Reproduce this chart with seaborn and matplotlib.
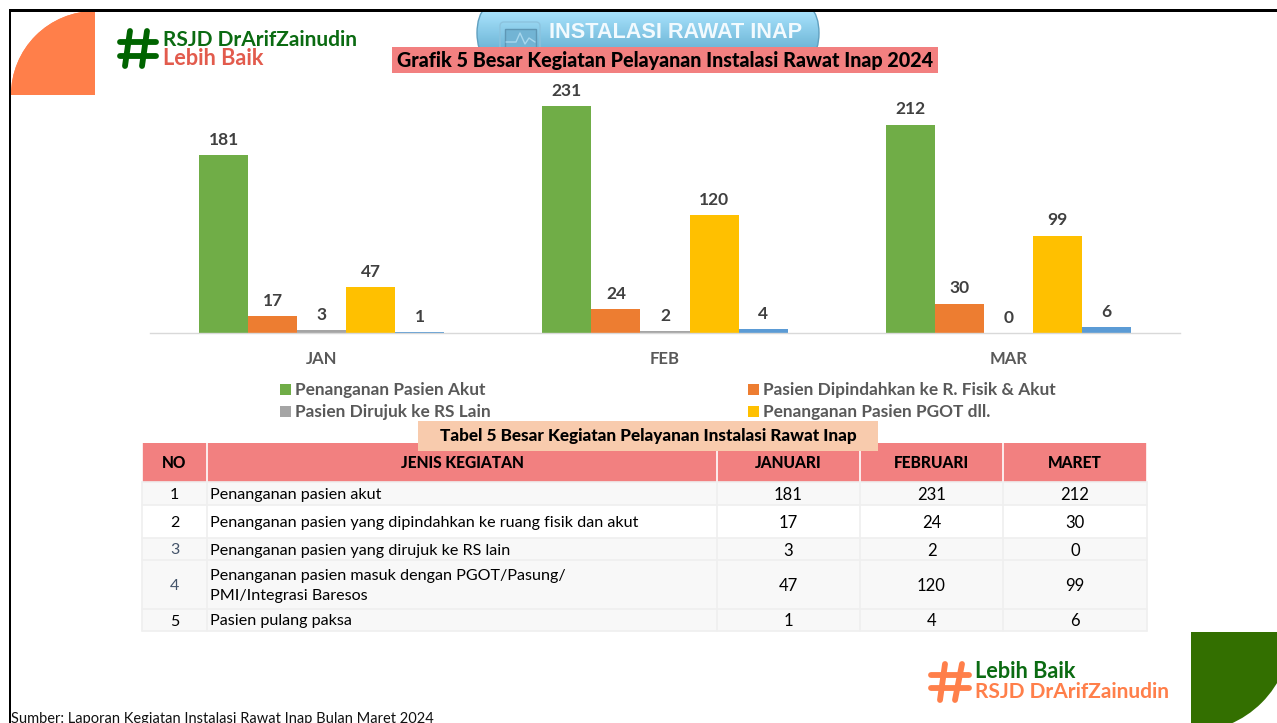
import pandas as pd
import seaborn as sns
import matplotlib
matplotlib.use('Agg')
import matplotlib.pyplot as plt
from matplotlib.patches import Rectangle, Circle, FancyBboxPatch
import numpy as np

# data
bulan = ['JAN', 'FEB', 'MAR']
kegiatan = ['Penanganan Pasien Akut', 'Pasien Dipindahkan ke R. Fisik & Akut', 'Pasien Dirujuk ke RS Lain',
            'Penanganan Pasien PGOT dll.', 'Pasien Pulang Paksa']
warna = ['#70AD47', '#ED7D31', '#A5A5A5', '#FFC000', '#5B9BD5']
januari = [181, 17, 3, 47, 1]
februari = [231, 24, 2, 120, 4]
maret = [212, 30, 0, 99, 6]
header = ['NO', 'JENIS KEGIATAN', 'JANUARI', 'FEBRUARI', 'MARET']
nomor = ['1', '2', '3', '4', '5']
jenis = ['Penanganan pasien akut',
         'Penanganan pasien yang dipindahkan ke ruang fisik dan akut',
         'Penanganan pasien yang dirujuk ke RS lain',
         'Penanganan pasien masuk dengan PGOT/Pasung/\nPMI/Integrasi Baresos',
         'Pasien pulang paksa']

W, H = 1277, 723
sns.set_theme(style='white')
plt.rcParams['font.family'] = ['Lato', 'DejaVu Sans']

df = pd.DataFrame({'kegiatan': kegiatan * 3,
                   'bulan': [b for b in bulan for _ in kegiatan],
                   'jumlah': januari + februari + maret})

fig = plt.figure(figsize=(W / 100, H / 100), dpi=100, facecolor='white')

# bar chart, axes placed by pixels
left, right, top, bottom = 150, 1180, 80, 333
ax = fig.add_axes([left / W, 1 - bottom / H, (right - left) / W, (bottom - top) / H])
ax.patch.set_alpha(0)
sns.barplot(data=df, x='bulan', y='jumlah', hue='kegiatan', hue_order=kegiatan, order=bulan,
            palette=warna, width=0.714, gap=0, legend=False, saturation=1, linewidth=0, ax=ax)
ax.set_ylim(0, (bottom - top) / 0.983)
ax.set_xlim(-0.5, 2.5)
for c in ax.containers:
    ax.bar_label(c, padding=5.2, fontsize=12.5, fontweight='bold', color='#404040')
ax.set_xlabel('')
ax.set_ylabel('')
ax.set_yticks([])
ax.tick_params(axis='x', length=0, pad=13)
for t in ax.get_xticklabels():
    t.set_fontsize(12)
    t.set_fontweight('bold')
    t.set_color('#595959')
sns.despine(ax=ax, left=True)
ax.spines['bottom'].set_color('#D9D9D9')
ax.spines['bottom'].set_linewidth(1)

# everything else is drawn in pixel coordinates
ov = fig.add_axes([0, 0, 1, 1], zorder=3)
ov.patch.set_alpha(0)
ov.set_axis_off()

def box(x0, y0, x1, y1, color, z=2):
    ov.add_patch(Rectangle((x0, y0), x1 - x0, y1 - y0, fc=color, ec='none', zorder=z))

# blue pill with gradient
grad = np.linspace(0, 1, 64).reshape(-1, 1)
cmap = matplotlib.colors.LinearSegmentedColormap.from_list('pill', ['#A8E2FC', '#5DA9CC'])
pill_fill = FancyBboxPatch((477, -2), 342, 70, boxstyle='round,pad=0,rounding_size=35',
                           fc='none', ec='#5F9FBF', lw=1, zorder=1.6)
ov.add_patch(pill_fill)
im = ov.imshow(grad, extent=[477, 819, 60, 11], cmap=cmap, aspect='auto', zorder=1.5)
im.set_clip_path(pill_fill)
ov.add_patch(FancyBboxPatch((500, 22), 40, 34, boxstyle='round,pad=0,rounding_size=4', fc='none',
                            ec='#8CC3DE', lw=1, zorder=1.7))
ov.add_patch(Rectangle((505, 29), 31, 26, fc='#72B4D4', ec='#5F97B5', lw=1, zorder=1.7))
ov.plot([506, 516, 520, 525, 529, 535], [42, 42, 33, 44, 38, 42], color='#A9D8EE', lw=1, zorder=1.8)
ov.text(675.5, 32.5, 'INSTALASI RAWAT INAP', family='Liberation Sans', fontweight='bold', fontsize=15.6,
        color='#F2FAFE', ha='center', va='center', zorder=2)

# frame
box(0, 0, W, 9, 'white', 1.9)
box(8.5, 9, W, 11.5, 'black', 6)
box(8.5, 9, 11, H, 'black', 6)

# corners
q1 = Rectangle((11, 11), 84, 84, fc='#FF7F4A', ec='none', zorder=2)
ov.add_patch(q1)
c1 = Circle((95, 95), 84, fc='#FF7F4A', ec='none', zorder=2)
ov.add_patch(c1)
q1.set_clip_path(c1)
c1.set_clip_path(q1)
c2 = Circle((1191, 632), 100, fc='#336F00', ec='none', zorder=2)
ov.add_patch(c2)
r2 = Rectangle((1191, 632), 86, 91, fc='none', ec='none', zorder=1)
ov.add_patch(r2)
c2.set_clip_path(r2)

# logos
def hashtag(vs, hs, color):
    for a, b in vs + hs:
        ov.plot([a[0], b[0]], [a[1], b[1]], color=color, lw=4.2, solid_capstyle='round', zorder=3)

hashtag([((130, 31), (125, 66)), ((147, 31), (142, 66))], [((120, 42), (156, 42)), ((120, 56), (156, 56))], '#006400')
hashtag([((945, 664), (940, 700)), ((962, 664), (955, 700))], [((931, 675), (969, 675)), ((931, 688), (969, 688))], '#FF7F4A')
ov.text(163, 40, 'RSJD DrArifZainudin', fontsize=15.0, fontweight='bold', color='#0B6B12', va='center', zorder=3)
ov.text(163, 58.5, 'Lebih Baik', fontsize=15.6, fontweight='bold', color='#E25B4D', va='center', zorder=3)
ov.text(975, 671, 'Lebih Baik', fontsize=15.6, fontweight='bold', color='#0B6B12', va='center', zorder=3)
ov.text(975, 692, 'RSJD DrArifZainudin', fontsize=15.0, fontweight='bold', color='#FF7F4A', va='center', zorder=3)

# title banner
box(392, 47, 938, 73, '#F28080', 2)
ov.text(665, 60.5, 'Grafik 5 Besar Kegiatan Pelayanan Instalasi Rawat Inap 2024', fontsize=14.2,
        fontweight=900, color='black', ha='center', va='center', zorder=3)

# legend
leg_pos = [(280, 389), (748, 389), (280, 411), (748, 411)]
for (lx, ly), nama, w in zip(leg_pos, kegiatan, warna):
    box(lx, ly - 5.5, lx + 11, ly + 5.5, w, 3)
    ov.text(lx + 15, ly + 1, nama, fontsize=12.45, fontweight='bold', color='#595959', va='center', zorder=3)

# table
kolom = [142, 207, 717, 860, 1003, 1147]
baris = [443, 482, 505, 538, 560, 609, 631]
garis = '#EFEFEF'
box(kolom[0], baris[0], kolom[-1], baris[1], '#F28080', 2)
for i in range(5):
    box(kolom[0], baris[i + 1], kolom[-1], baris[i + 2], '#F8F8F8' if i != 1 else 'white', 2)
for x in kolom:
    ov.plot([x, x], [baris[0], baris[1]], color='white', lw=1.2, zorder=2.5)
    ov.plot([x, x], [baris[1], baris[-1]], color=garis, lw=1.2, zorder=2.5)
for y in baris[1:]:
    ov.plot([kolom[0], kolom[-1]], [y, y], color=garis, lw=1.2, zorder=2.5)

for i, h in enumerate(header):
    ov.text((kolom[i] + kolom[i + 1]) / 2, 463.5, h, fontsize=11.2, fontweight=900, color='black',
            ha='center', va='center', zorder=3)

nilai = [januari, februari, maret]
warna_no = ['black', 'black', '#44546A', '#44546A', 'black']
for i in range(5):
    yc = (baris[i + 1] + baris[i + 2]) / 2 + 1.5
    ov.text(174.5, yc, nomor[i], fontsize=11.5, color=warna_no[i], ha='center', va='center', zorder=3)
    ov.text(210, yc, jenis[i], fontsize=11.6, color='black', va='center', linespacing=1.6, zorder=3)
    for j in range(3):
        ov.text((kolom[j + 2] + kolom[j + 3]) / 2, yc, str(nilai[j][i]), fontsize=12, color='black',
                ha='center', va='center', zorder=3)

# table title on top of the header
box(418, 421, 878, 451, '#F8CBAD', 4)
ov.text(648, 436, 'Tabel 5 Besar Kegiatan Pelayanan Instalasi Rawat Inap', fontsize=12.3,
        fontweight=900, color='black', ha='center', va='center', zorder=5)

ov.text(11, 719, 'Sumber: Laporan Kegiatan Instalasi Rawat Inap Bulan Maret 2024', fontsize=10.5,
        color='#111111', va='center', zorder=3)

ov.set_xlim(0, W)
ov.set_ylim(H, 0)

fig.savefig('out.png', dpi=100)
